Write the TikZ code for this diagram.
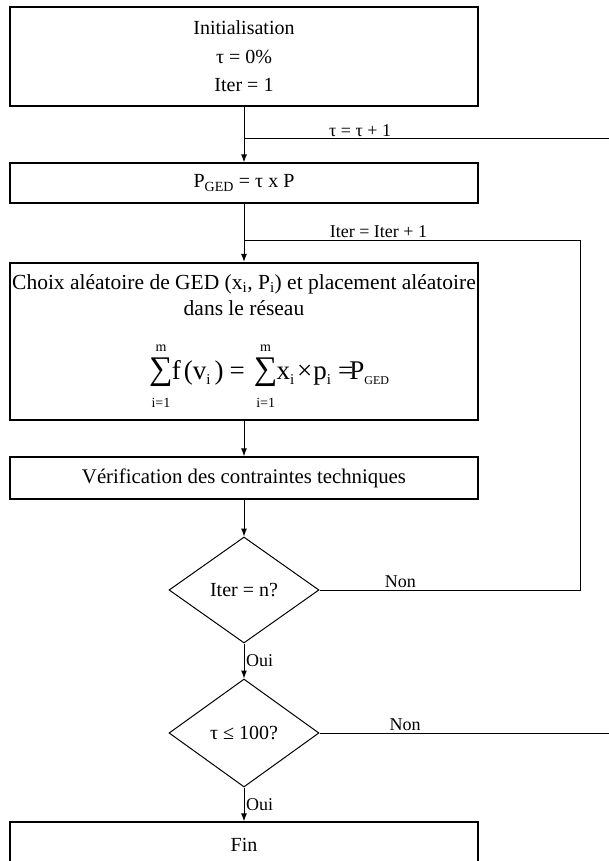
\documentclass[tikz,border=0pt]{standalone}
\usepackage{fontspec}
\setmainfont{Liberation Serif}
\usetikzlibrary{shapes.geometric,arrows.meta}

\newcommand{\ind}[1]{\raisebox{-5pt}{\fontsize{15}{15}\selectfont #1}}
\newcommand{\grandsigma}{\mathop{\hbox{\fontsize{33}{33}\selectfont ∑}}\limits^{\hbox{\fontsize{14}{14}\selectfont\rule[-5pt]{0pt}{5pt}m}}_{\hbox{\fontsize{14}{14}\selectfont\rule{0pt}{20pt}i=1}}}

\tikzset{
  etape/.style={draw, line width=1.3pt, minimum width=468pt, inner sep=0pt, align=center, font=\fontsize{20}{28.5}\selectfont},
  test/.style={draw, diamond, line width=1pt, minimum width=150pt, minimum height=106pt, inner sep=0pt, font=\fontsize{20}{24}\selectfont},
  lien/.style={line width=1pt, -{Latex[length=8pt,width=6pt]}},
  boucle/.style={line width=1pt},
  lbl/.style={font=\fontsize{18}{20}\selectfont, inner sep=1.5pt}
}

\begin{document}
\begin{tikzpicture}[x=1pt,y=-1pt]
  \useasboundingbox (0,0) rectangle (609,861);

  \node[etape, minimum height=99pt] (init) at (244,56.5) {Initialisation\\τ = 0\%\\Iter = 1};
  \node[etape, minimum height=40pt] (pged) at (244,183) {P\textsubscript{GED} = τ x P};
  \node[etape, line width=2.2pt, minimum height=157pt] (choix) at (244,341.5) {};
  \node[align=center, font=\fontsize{21.5}{26}\selectfont] (choixtxt) at (244,295)
    {Choix aléatoire de GED (x\textsubscript{i}, P\textsubscript{i}) et placement aléatoire\\dans le réseau};
  \node[anchor=base west, inner sep=0pt, font=\fontsize{27}{27}\selectfont] (formule) at (149,379)
    {$\grandsigma\kern-5pt\hbox{f\kern3pt(v\ind{i}\kern4pt)\kern6pt=\kern5pt}\grandsigma\kern-5pt
      \hbox{x\ind{i}\kern3pt×\kern1pt p\ind{i}\kern7pt=\kern-4pt P\raisebox{-5pt}{\fontsize{12}{12}\selectfont GED}}$};
  \node[etape, minimum height=42pt, font=\fontsize{20.8}{24}\selectfont] (verif) at (244,478) {Vérification des contraintes techniques};
  \node[test] (iter) at (244,590) {Iter = n?};
  \node[test, minimum height=108pt] (tau) at (244,733) {τ ≤ 100?};
  \node[etape, minimum height=46pt] (fin) at (244,845) {Fin};

  \coordinate (jonctionT) at (244,139);
  \coordinate (entreeT) at (615,139);
  \coordinate (jonctionI) at (244,240);
  \coordinate (coinH) at (580,240);
  \coordinate (coinB) at (580,590);
  \coordinate (sortieT) at (615,733);

  \draw[lien] (init) -- (pged);
  \draw[lien] (pged) -- (choix);
  \draw[lien] (choix) -- (verif);
  \draw[lien] (verif) -- (iter);
  \draw[lien] (iter) -- node[lbl, right] {Oui} (tau);
  \draw[lien] (tau) -- node[lbl, right] {Oui} (fin);

  \draw[boucle] (iter.east) -- node[lbl, above, pos=0.31] {Non} (coinB) -- (coinH)
    -- node[lbl, above, pos=0.6] {Iter = Iter + 1} (jonctionI);
  \draw[boucle] (tau.east) -- node[lbl, above, pos=0.29] {Non} (sortieT);
  \draw[boucle] (entreeT) -- node[lbl, above, pos=0.687] {τ = τ + 1} (jonctionT);
\end{tikzpicture}
\end{document}
